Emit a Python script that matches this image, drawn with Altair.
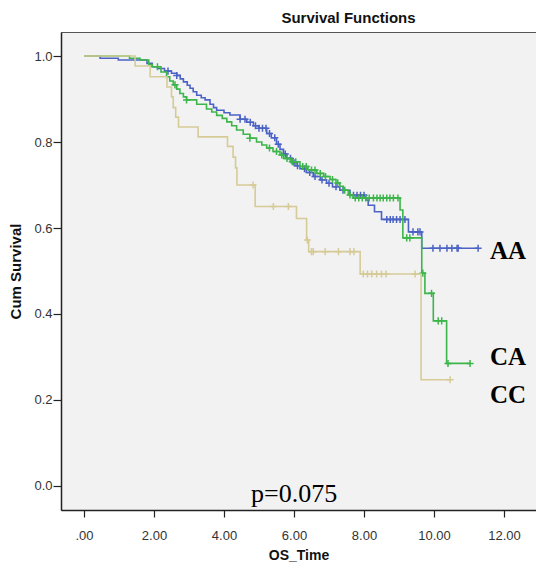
import altair as alt
import pandas as pd

# ---- data ----
groups = ["AA", "CA", "CC"]
colors = ["#4b63c5", "#3db54a", "#d6cb97"]

aa_time = [0, 0.46, 0.98, 1.8, 1.95, 2.1, 2.3, 2.5, 2.65, 2.75, 2.84, 2.95, 3.03, 3.12, 3.22, 3.35,
           3.46, 3.6, 3.7, 3.79, 4.0, 4.17, 4.46, 4.65, 4.84, 5.0, 5.22, 5.35, 5.5, 5.6, 5.7, 5.79,
           5.95, 6.05, 6.17, 6.35, 6.55, 6.75, 6.93, 7.1, 7.31, 7.6, 8.05, 8.12, 8.3, 8.5, 9.27, 9.65]
aa_surv = [1.0, 0.995, 0.991, 0.983, 0.975, 0.971, 0.965, 0.96, 0.955, 0.947, 0.94, 0.932, 0.925, 0.917, 0.909, 0.903,
           0.898, 0.888, 0.88, 0.874, 0.868, 0.863, 0.853, 0.846, 0.838, 0.832, 0.82, 0.81, 0.795, 0.783, 0.772, 0.762,
           0.752, 0.745, 0.738, 0.729, 0.72, 0.712, 0.704, 0.696, 0.688, 0.676, 0.665, 0.653, 0.638, 0.62, 0.591, 0.553]
aa_cens = [2.4, 2.65, 4.46, 4.6, 4.75, 4.9, 5.0, 5.1, 5.2, 5.3, 5.45, 5.55, 5.75, 5.9, 6.0, 6.1, 6.3,
           6.45, 6.6, 6.8, 7.0, 7.2, 7.4, 7.7, 7.8, 7.9, 8.0, 8.65, 8.75, 8.83, 8.93, 9.03, 9.17,
           9.4, 9.54, 9.6, 9.97, 10.17, 10.37, 10.51, 10.66, 10.69, 11.26]

ca_time = [0, 1.3, 1.6, 1.85, 1.95, 2.2, 2.36, 2.45, 2.55, 2.65, 2.74, 2.84, 2.93, 3.22, 3.5, 3.65,
           3.79, 3.95, 4.08, 4.22, 4.36, 4.55, 4.74, 4.93, 5.08, 5.22, 5.4, 5.6, 5.7, 5.9, 6.17, 6.4,
           6.65, 6.85, 7.03, 7.2, 7.31, 7.41, 7.55, 7.69, 9.03, 9.11, 9.65, 9.74, 9.98, 10.36]
ca_surv = [1.0, 0.995, 0.991, 0.98, 0.975, 0.963, 0.952, 0.942, 0.933, 0.923, 0.913, 0.905, 0.898, 0.888, 0.877, 0.87,
           0.862, 0.855, 0.847, 0.838, 0.828, 0.818, 0.809, 0.8, 0.793, 0.786, 0.778, 0.77, 0.762, 0.754, 0.743, 0.735,
           0.727, 0.72, 0.713, 0.705, 0.697, 0.688, 0.677, 0.67, 0.642, 0.577, 0.495, 0.448, 0.384, 0.285]
ca_cens = [2.1, 2.6, 2.93, 4.74, 5.3, 5.5, 5.65, 5.8, 5.95, 6.05, 6.25, 6.35, 6.5, 6.6, 6.75, 6.9, 7.1,
           7.25, 7.45, 7.6, 7.75, 7.85, 7.95, 8.05, 8.15, 8.27, 8.37, 8.46, 8.55, 8.65, 8.74, 8.84,
           8.97, 9.22, 9.31, 9.68, 9.93, 10.12, 10.22, 10.4, 11.03]

cc_time = [0, 1.46, 1.89, 2.37, 2.5, 2.55, 2.62, 2.7, 3.26, 4.1, 4.26, 4.33, 4.37, 4.89, 6.07, 6.36, 6.42, 7.89, 9.63]
cc_surv = [1.0, 0.977, 0.952, 0.928, 0.905, 0.88, 0.858, 0.835, 0.812, 0.79, 0.765, 0.74, 0.70, 0.65, 0.622, 0.572, 0.545, 0.493, 0.247]
cc_cens = [4.83, 5.41, 5.84, 6.38, 6.5, 6.55, 6.89, 7.27, 7.6, 7.71, 7.98, 8.1, 8.22, 8.36, 8.5, 8.63, 9.46, 10.46]

x_ticks = [0, 2, 4, 6, 8, 10, 12]
y_ticks = [0.0, 0.2, 0.4, 0.6, 0.8, 1.0]

series = {"AA": (aa_time, aa_surv, aa_cens),
          "CA": (ca_time, ca_surv, ca_cens),
          "CC": (cc_time, cc_surv, cc_cens)}

def surv_at(times, survs, t):
    s = survs[0]
    for tt, ss in zip(times, survs):
        if tt <= t:
            s = ss
    return s

xs = alt.Scale(domain=[-0.657, 12.914], nice=False, zero=False)
ys = alt.Scale(domain=[-0.056, 1.056], nice=False, zero=False)

xaxis = alt.Axis(values=x_ticks, title="OS_Time", grid=False,
                 labelExpr="datum.value == 0 ? '.00' : format(datum.value, '.2f')",
                 labelFont="Liberation Sans", labelFontSize=13, labelColor="#333",
                 labelPadding=12, tickSize=7, tickColor="#222", domainColor="#222",
                 domainWidth=1.5, tickWidth=1.2,
                 titleFont="Liberation Sans", titleFontSize=14, titleFontWeight="bold",
                 titleColor="#111", titlePadding=6)
yaxis = alt.Axis(values=y_ticks, title="Cum Survival", grid=False, format=".1f",
                 labelFont="Liberation Sans", labelFontSize=13, labelColor="#333",
                 labelPadding=1, tickSize=8, tickColor="#222", domainColor="#222",
                 domainWidth=1.5, tickWidth=1.2,
                 titleFont="Liberation Sans", titleFontSize=15, titleFontWeight="bold",
                 titleColor="#111", titlePadding=10)

X = alt.X("time:Q", scale=xs, axis=xaxis)
Y = alt.Y("surv:Q", scale=ys, axis=yaxis)

layers = []
for g, col in zip(groups, colors):
    t, s, c = series[g]
    end_t = max(c[-1], t[-1])
    line_df = pd.DataFrame({"time": list(t) + [end_t], "surv": list(s) + [s[-1]]})
    cens_df = pd.DataFrame({"time": c, "surv": [surv_at(t, s, ct) for ct in c]})
    line = alt.Chart(line_df).mark_line(interpolate="step-after", color=col, strokeWidth=1.6).encode(
        x=X, y=Y)
    pts = alt.Chart(cens_df).mark_point(shape="M-1,0L1,0M0,-1L0,1", filled=False, color=col,
                                        size=50, strokeWidth=1.5, opacity=1).encode(x=X, y=Y)
    layers += [line, pts]

lab_y = [219, 325, 363]
texts = []
for lab, yy in zip(["AA", "CA", "CC"], lab_y):
    texts.append(alt.Chart(pd.DataFrame({"lab": [lab]})).mark_text(
        font="Liberation Serif", fontSize=25, fontWeight="bold", color="#000",
        align="left", baseline="middle").encode(
        x=alt.value(429), y=alt.value(yy), text="lab:N"))

ptext = alt.Chart(pd.DataFrame({"lab": ["p=0.075"]})).mark_text(
    font="Liberation Serif", fontSize=26, color="#000", align="left", baseline="alphabetic").encode(
    x=alt.value(190), y=alt.value(470), text="lab:N")

chart = alt.layer(*layers, *texts, ptext).properties(
    width=475, height=478,
    title=alt.TitleParams("Survival Functions", font="Liberation Sans", fontSize=15,
                          fontWeight="bold", color="#111", dx=50, offset=6),
    autosize=alt.AutoSizeParams(type="none"),
    padding={"left": 61, "top": 32, "right": 0, "bottom": 56},
    background="white",
).configure_view(fill="#f2f2f2", stroke="#555", strokeWidth=1)

chart.save("out.html", embed_options={"renderer": "svg", "actions": False})
